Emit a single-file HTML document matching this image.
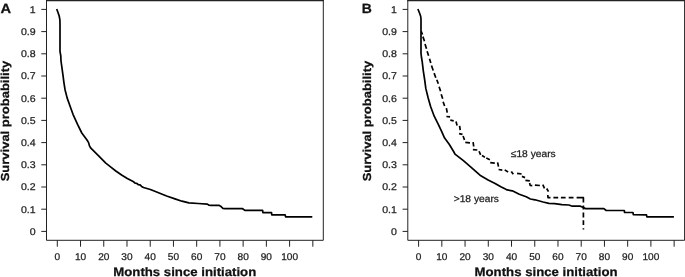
<!DOCTYPE html>
<html><head><meta charset="utf-8"><title>Survival</title>
<style>
html,body{margin:0;padding:0;background:#fff;}
svg{display:block;}
text{font-family:"Liberation Sans",sans-serif;fill:#222;text-rendering:geometricPrecision;}
.t{font-size:9.8px;stroke:#222;stroke-width:0.25px;}
.pl{font-size:13.4px;font-weight:bold;fill:#111;stroke:#111;stroke-width:0.25px;}
.al{font-size:12.2px;font-weight:bold;fill:#111;stroke:#111;stroke-width:0.25px;}
.yl{font-size:11.6px;}
.c{fill:none;stroke:#000;stroke-width:1.7;stroke-linejoin:round;}
</style></head><body>
<svg style="will-change:transform;opacity:0.999" width="685" height="277" viewBox="0 0 685 277">
<rect width="685" height="277" fill="#fff"/>
<path d="M46.5,0 V240.3 H323.3 V0" fill="none" stroke="#222" stroke-width="1"/>
<path d="M46.0,0.6 H323.8" fill="none" stroke="#222" stroke-width="1.2"/>
<path d="M41.3,231.40 H46.5" stroke="#222" stroke-width="1"/>
<text transform="translate(35.6,234.80) scale(1.08,1)" text-anchor="end" class="t">0</text>
<path d="M41.3,209.20 H46.5" stroke="#222" stroke-width="1"/>
<text transform="translate(35.6,212.60) scale(1.08,1)" text-anchor="end" class="t">0.1</text>
<path d="M41.3,187.00 H46.5" stroke="#222" stroke-width="1"/>
<text transform="translate(35.6,190.40) scale(1.08,1)" text-anchor="end" class="t">0.2</text>
<path d="M41.3,164.80 H46.5" stroke="#222" stroke-width="1"/>
<text transform="translate(35.6,168.20) scale(1.08,1)" text-anchor="end" class="t">0.3</text>
<path d="M41.3,142.60 H46.5" stroke="#222" stroke-width="1"/>
<text transform="translate(35.6,146.00) scale(1.08,1)" text-anchor="end" class="t">0.4</text>
<path d="M41.3,120.40 H46.5" stroke="#222" stroke-width="1"/>
<text transform="translate(35.6,123.80) scale(1.08,1)" text-anchor="end" class="t">0.5</text>
<path d="M41.3,98.20 H46.5" stroke="#222" stroke-width="1"/>
<text transform="translate(35.6,101.60) scale(1.08,1)" text-anchor="end" class="t">0.6</text>
<path d="M41.3,76.00 H46.5" stroke="#222" stroke-width="1"/>
<text transform="translate(35.6,79.40) scale(1.08,1)" text-anchor="end" class="t">0.7</text>
<path d="M41.3,53.80 H46.5" stroke="#222" stroke-width="1"/>
<text transform="translate(35.6,57.20) scale(1.08,1)" text-anchor="end" class="t">0.8</text>
<path d="M41.3,31.60 H46.5" stroke="#222" stroke-width="1"/>
<text transform="translate(35.6,35.00) scale(1.08,1)" text-anchor="end" class="t">0.9</text>
<path d="M41.3,9.40 H46.5" stroke="#222" stroke-width="1"/>
<text transform="translate(35.6,12.80) scale(1.08,1)" text-anchor="end" class="t">1</text>
<path d="M57.30,240.3 V246.70000000000002" stroke="#222" stroke-width="1"/>
<text transform="translate(57.30,259.8) scale(1.03,1)" text-anchor="middle" class="t">0</text>
<path d="M80.53,240.3 V246.70000000000002" stroke="#222" stroke-width="1"/>
<text transform="translate(80.53,259.8) scale(1.03,1)" text-anchor="middle" class="t">10</text>
<path d="M103.76,240.3 V246.70000000000002" stroke="#222" stroke-width="1"/>
<text transform="translate(103.76,259.8) scale(1.03,1)" text-anchor="middle" class="t">20</text>
<path d="M126.99,240.3 V246.70000000000002" stroke="#222" stroke-width="1"/>
<text transform="translate(126.99,259.8) scale(1.03,1)" text-anchor="middle" class="t">30</text>
<path d="M150.22,240.3 V246.70000000000002" stroke="#222" stroke-width="1"/>
<text transform="translate(150.22,259.8) scale(1.03,1)" text-anchor="middle" class="t">40</text>
<path d="M173.45,240.3 V246.70000000000002" stroke="#222" stroke-width="1"/>
<text transform="translate(173.45,259.8) scale(1.03,1)" text-anchor="middle" class="t">50</text>
<path d="M196.68,240.3 V246.70000000000002" stroke="#222" stroke-width="1"/>
<text transform="translate(196.68,259.8) scale(1.03,1)" text-anchor="middle" class="t">60</text>
<path d="M219.91,240.3 V246.70000000000002" stroke="#222" stroke-width="1"/>
<text transform="translate(219.91,259.8) scale(1.03,1)" text-anchor="middle" class="t">70</text>
<path d="M243.14,240.3 V246.70000000000002" stroke="#222" stroke-width="1"/>
<text transform="translate(243.14,259.8) scale(1.03,1)" text-anchor="middle" class="t">80</text>
<path d="M266.37,240.3 V246.70000000000002" stroke="#222" stroke-width="1"/>
<text transform="translate(266.37,259.8) scale(1.03,1)" text-anchor="middle" class="t">90</text>
<path d="M289.60,240.3 V246.70000000000002" stroke="#222" stroke-width="1"/>
<text transform="translate(289.60,259.8) scale(1.03,1)" text-anchor="middle" class="t">100</text>
<path d="M312.83,240.3 V246.70000000000002" stroke="#222" stroke-width="1"/>
<text transform="translate(0.4,12.7) scale(1.1,1)" class="pl">A</text>
<text transform="translate(184.75,275.6) scale(1.083,1)" text-anchor="middle" class="al">Months since initiation</text>
<text transform="translate(9.0,121.05) rotate(-90) scale(1.12,1)" text-anchor="middle" class="al yl">Survival probability</text>
<path d="M407.8,0 V240.3 H684.6 V0" fill="none" stroke="#222" stroke-width="1"/>
<path d="M407.3,0.6 H685.1" fill="none" stroke="#222" stroke-width="1.2"/>
<path d="M402.6,231.40 H407.8" stroke="#222" stroke-width="1"/>
<text transform="translate(396.90000000000003,234.80) scale(1.08,1)" text-anchor="end" class="t">0</text>
<path d="M402.6,209.20 H407.8" stroke="#222" stroke-width="1"/>
<text transform="translate(396.90000000000003,212.60) scale(1.08,1)" text-anchor="end" class="t">0.1</text>
<path d="M402.6,187.00 H407.8" stroke="#222" stroke-width="1"/>
<text transform="translate(396.90000000000003,190.40) scale(1.08,1)" text-anchor="end" class="t">0.2</text>
<path d="M402.6,164.80 H407.8" stroke="#222" stroke-width="1"/>
<text transform="translate(396.90000000000003,168.20) scale(1.08,1)" text-anchor="end" class="t">0.3</text>
<path d="M402.6,142.60 H407.8" stroke="#222" stroke-width="1"/>
<text transform="translate(396.90000000000003,146.00) scale(1.08,1)" text-anchor="end" class="t">0.4</text>
<path d="M402.6,120.40 H407.8" stroke="#222" stroke-width="1"/>
<text transform="translate(396.90000000000003,123.80) scale(1.08,1)" text-anchor="end" class="t">0.5</text>
<path d="M402.6,98.20 H407.8" stroke="#222" stroke-width="1"/>
<text transform="translate(396.90000000000003,101.60) scale(1.08,1)" text-anchor="end" class="t">0.6</text>
<path d="M402.6,76.00 H407.8" stroke="#222" stroke-width="1"/>
<text transform="translate(396.90000000000003,79.40) scale(1.08,1)" text-anchor="end" class="t">0.7</text>
<path d="M402.6,53.80 H407.8" stroke="#222" stroke-width="1"/>
<text transform="translate(396.90000000000003,57.20) scale(1.08,1)" text-anchor="end" class="t">0.8</text>
<path d="M402.6,31.60 H407.8" stroke="#222" stroke-width="1"/>
<text transform="translate(396.90000000000003,35.00) scale(1.08,1)" text-anchor="end" class="t">0.9</text>
<path d="M402.6,9.40 H407.8" stroke="#222" stroke-width="1"/>
<text transform="translate(396.90000000000003,12.80) scale(1.08,1)" text-anchor="end" class="t">1</text>
<path d="M418.60,240.3 V246.70000000000002" stroke="#222" stroke-width="1"/>
<text transform="translate(418.60,259.8) scale(1.03,1)" text-anchor="middle" class="t">0</text>
<path d="M441.83,240.3 V246.70000000000002" stroke="#222" stroke-width="1"/>
<text transform="translate(441.83,259.8) scale(1.03,1)" text-anchor="middle" class="t">10</text>
<path d="M465.06,240.3 V246.70000000000002" stroke="#222" stroke-width="1"/>
<text transform="translate(465.06,259.8) scale(1.03,1)" text-anchor="middle" class="t">20</text>
<path d="M488.29,240.3 V246.70000000000002" stroke="#222" stroke-width="1"/>
<text transform="translate(488.29,259.8) scale(1.03,1)" text-anchor="middle" class="t">30</text>
<path d="M511.52,240.3 V246.70000000000002" stroke="#222" stroke-width="1"/>
<text transform="translate(511.52,259.8) scale(1.03,1)" text-anchor="middle" class="t">40</text>
<path d="M534.75,240.3 V246.70000000000002" stroke="#222" stroke-width="1"/>
<text transform="translate(534.75,259.8) scale(1.03,1)" text-anchor="middle" class="t">50</text>
<path d="M557.98,240.3 V246.70000000000002" stroke="#222" stroke-width="1"/>
<text transform="translate(557.98,259.8) scale(1.03,1)" text-anchor="middle" class="t">60</text>
<path d="M581.21,240.3 V246.70000000000002" stroke="#222" stroke-width="1"/>
<text transform="translate(581.21,259.8) scale(1.03,1)" text-anchor="middle" class="t">70</text>
<path d="M604.44,240.3 V246.70000000000002" stroke="#222" stroke-width="1"/>
<text transform="translate(604.44,259.8) scale(1.03,1)" text-anchor="middle" class="t">80</text>
<path d="M627.67,240.3 V246.70000000000002" stroke="#222" stroke-width="1"/>
<text transform="translate(627.67,259.8) scale(1.03,1)" text-anchor="middle" class="t">90</text>
<path d="M650.90,240.3 V246.70000000000002" stroke="#222" stroke-width="1"/>
<text transform="translate(650.90,259.8) scale(1.03,1)" text-anchor="middle" class="t">100</text>
<path d="M674.13,240.3 V246.70000000000002" stroke="#222" stroke-width="1"/>
<text transform="translate(361.8,12.7) scale(1.04,1)" class="pl">B</text>
<text transform="translate(546.05,275.6) scale(1.083,1)" text-anchor="middle" class="al">Months since initiation</text>
<text transform="translate(370.90000000000003,121.05) rotate(-90) scale(1.12,1)" text-anchor="middle" class="al yl">Survival probability</text>
<path class="c" d="M56.7,9.0 L58.0,12.5 L59.2,16.0 L59.9,19.8 L60.0,24.0 L60.0,51.4 L60.8,56.0 L61.0,61.0 L62.0,68.1 L63.1,76.2 L64.0,83.1 L65.1,90.0 L67.2,98.1 L70.1,106.2 L73.0,114.3 L75.5,119.8 L77.8,124.9 L81.8,133.0 L87.0,140.0 L88.6,142.6 L89.4,145.6 L90.6,147.8 L91.9,149.2 L98.9,156.2 L105.8,163.1 L111.2,167.3 L115.8,171.0 L121.6,175.0 L127.3,178.5 L133.1,181.4 L134.9,183.0 L137.2,183.6 L138.2,184.6 L140.1,184.9 L141.6,186.4 L143.5,187.5 L150.4,189.5 L157.3,192.3 L166.6,196.0 L175.0,198.9 L181.9,201.2 L188.9,202.9 L198.1,203.5 L207.4,204.1 L209.0,205.2 L210.8,205.3 L218.9,205.3 L220.6,206.2 L222.9,208.3 L225.2,208.7 L242.6,208.7 L244.9,210.4 L262.6,210.4 L262.9,212.6 L271.5,212.6 L271.8,214.8 L285.2,214.8 L285.6,216.8 L312.3,216.8"/>
<path class="c" d="M417.9,9.0 L419.0,11.8 L419.9,14.0 L420.7,16.5 L421.0,19.0 L421.0,53.5 L421.5,57.5 L422.2,61.6 L423.3,70.8 L424.7,80.0 L425.8,88.4 L428.1,97.7 L430.6,106.5 L434.2,116.2 L438.3,124.3 L441.5,131.2 L444.6,138.1 L449.2,144.2 L453.9,152.0 L455.0,154.1 L463.1,160.4 L470.6,166.8 L480.0,175.2 L488.1,179.9 L495.1,183.4 L500.8,186.8 L505.4,189.1 L507.1,189.9 L512.3,190.8 L519.3,194.3 L526.2,196.8 L530.4,199.0 L535.0,199.8 L543.1,202.0 L548.9,203.3 L554.7,203.7 L561.9,204.7 L568.9,205.0 L572.3,206.2 L580.4,206.2 L583.3,207.6 L585.6,208.6 L603.9,208.7 L606.2,210.5 L624.3,210.5 L624.6,212.5 L633.0,212.5 L633.3,214.7 L646.5,214.8 L646.9,216.8 L673.9,216.8"/>
<path class="c d" d="M421.3,31.5 L422.5,34.5 M422.9,36.6 L424.5,41.2 M425.0,44.1 L426.5,48.7 M427.1,51.3 L428.6,55.8 M429.5,58.7 L430.8,62.9 M431.5,65.6 L433.2,70.6 M434.1,73.1 L435.8,77.7 M436.8,79.7 L438.3,83.8 M439.1,86.7 L440.6,91.3 M441.2,94.2 L442.7,98.8 M443.1,101.7 L444.6,106.0 M446.4,108.1 L447.2,112.7 M446.4,116.5 L450.1,116.9 M450.3,120.2 L453.7,120.8 M456.0,121.4 L457.1,125.4 M459.6,125.8 L460.2,130.1 M459.1,133.6 L462.5,134.3 M463.1,136.0 L464.5,140.0 M465.3,142.4 L470.0,142.8 M473.1,142.2 L473.7,146.5 M472.9,149.6 L477.3,150.0 M479.1,151.2 L480.6,154.9 M482.0,155.6 L484.9,157.2 M486.3,158.0 L489.9,159.7 M490.2,162.6 L494.8,163.1 M497.6,162.3 L498.5,166.7 M498.6,169.5 L502.3,170.1 M504.7,169.9 L508.1,172.0 M511.3,171.4 L513.3,174.3 M517.1,173.3 L521.6,174.0 M521.9,176.4 L525.1,177.6 M525.4,180.3 L529.8,180.9 M529.6,183.0 L530.2,185.4 L532.3,185.6 M534.9,185.2 L539.9,185.5 M542.8,184.6 L544.5,188.3 M546.7,188.5 L548.5,191.7 M547.8,195.0 L548.0,197.7 L550.5,197.7 M553.4,197.7 L558.2,197.7 M560.9,197.7 L565.6,197.7 M568.7,197.7 L573.5,197.7 M576.6,197.7 L583.4,197.7 L583.4,202.5 M583.4,205.4 L583.4,209.6 M583.4,212.4 L583.4,217.6 M583.4,220.3 L583.4,225.1 M583.4,228.2 L583.4,229.4"/>
<text transform="translate(510.8,157.3) scale(1.045,1)" class="t">≤18 years</text>
<text transform="translate(453.7,202.1) scale(1.045,1)" class="t">&gt;18 years</text>
</svg>
</body></html>
